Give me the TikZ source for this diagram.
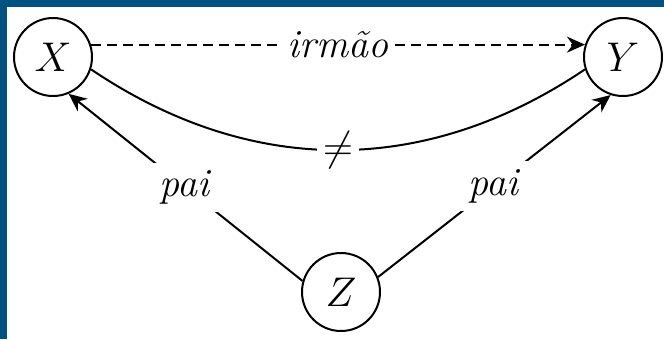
\documentclass[tikz,border=0pt]{standalone}
\usepackage{amsmath}
\usepackage{xcolor}
\usepackage{tikz}
\usetikzlibrary{arrows.meta}
\definecolor{framebg}{RGB}{0,83,128}

\begin{document}
\begin{tikzpicture}[x=0.5pt, y=-0.5pt, font=\fontsize{20}{24}\selectfont,
  var/.style={draw, circle, line width=1pt, minimum size=39pt, inner sep=0pt},
  rel/.style={line width=1pt, -{Stealth[length=9pt,width=8pt]}},
  lbl/.style={fill=white, inner sep=3pt}]
\useasboundingbox (0,0) rectangle (664,339);
\fill[framebg] (0,0) rectangle (664,7);
\fill[framebg] (0,0) rectangle (7,339);
\node[var] (x) at (53,57) {$X$};
\node[var] (y) at (623,57) {$Y$};
\node[var] (z) at (341,292) {$Z$};
\draw[rel, dash pattern=on 5pt off 3pt] (x.18) -- node[lbl] {\textit{irmão}} (y.162);
\draw[line width=1pt] (x.-18) to[bend right=34] node[lbl] {$\neq$} (y.-162);
\draw[rel] (z.164) -- node[lbl, inner sep=4pt] {\textit{pai}} (x.-67);
\draw[rel] (z.22) -- node[lbl, inner sep=4pt] {\textit{pai}} (y.-108);
\end{tikzpicture}
\end{document}
